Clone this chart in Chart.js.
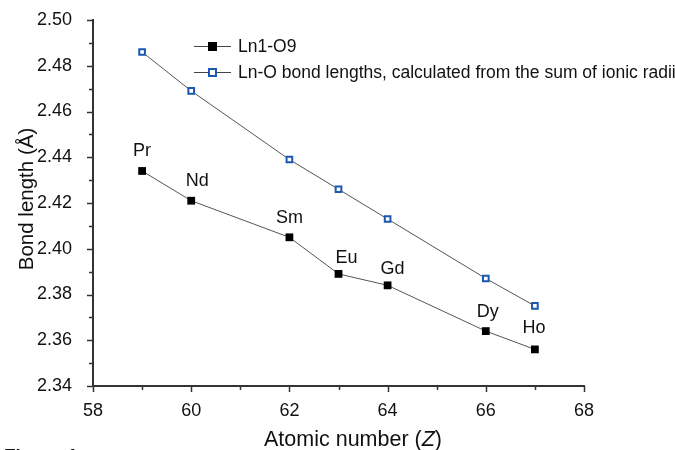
<!DOCTYPE html>
<html>
<head>
<meta charset="utf-8">
<script src="https://cdn.jsdelivr.net/npm/chart.js@4/dist/chart.umd.min.js"></script>
<style>
  html, body { margin: 0; padding: 0; background: #fff; overflow: hidden; }
  #wrap { width: 675px; height: 450px; position: relative; }
</style>
</head>
<body>
<div id="wrap"><canvas id="bondChart"></canvas></div>
<script>
// Data
const atomicNumbers = [59, 60, 62, 63, 64, 66, 67];
const elements = ['Pr', 'Nd', 'Sm', 'Eu', 'Gd', 'Dy', 'Ho'];
const ln1O9 = [2.434, 2.421, 2.405, 2.389, 2.384, 2.364, 2.356];
const ionicSum = [2.486, 2.469, 2.439, 2.426, 2.413, 2.387, 2.375];
const xTicks = [58, 60, 62, 64, 66, 68];
const yTicks = [2.34, 2.36, 2.38, 2.40, 2.42, 2.44, 2.46, 2.48, 2.50];

// label offsets relative to each Ln1-O9 point (dx, dy)
const labelOffsets = [[0, -18], [6, -18], [0, -17], [8, -14], [5, -14], [2, -17], [-1, -19]];

const FONT = "'Liberation Sans', Arial, sans-serif";
const BLUE = '#1c57b0';

const toPoints = ys => atomicNumbers.map((x, i) => ({ x: x, y: ys[i] }));

// draws ticks, axis titles, point labels, legend
const decorations = {
    id: 'decorations',
    afterDraw(chart) {
        const ctx = chart.ctx;
        const xs = chart.scales.x, ys = chart.scales.y;
        const area = chart.chartArea;
        ctx.save();
        ctx.strokeStyle = '#333';
        ctx.lineWidth = 1.5;

        // x ticks (major + minor)
        for (let v = 58; v <= 68; v++) {
            const px = Math.round(xs.getPixelForValue(v)) + 0.5;
            const len = (v % 2 === 0) ? 6 : 4;
            ctx.beginPath();
            ctx.moveTo(px, area.bottom);
            ctx.lineTo(px, area.bottom + len);
            ctx.stroke();
        }
        // y ticks (major + minor)
        for (let k = 0; k <= 16; k++) {
            const v = 2.34 + k * 0.01;
            const py = Math.round(ys.getPixelForValue(v)) + 0.5;
            const len = (k % 2 === 0) ? 6 : 4;
            ctx.beginPath();
            ctx.moveTo(area.left, py);
            ctx.lineTo(area.left - len, py);
            ctx.stroke();
        }

        // point labels
        ctx.fillStyle = '#111';
        ctx.font = '18px ' + FONT;
        ctx.textAlign = 'center';
        ctx.textBaseline = 'bottom';
        elements.forEach((el, i) => {
            const px = xs.getPixelForValue(atomicNumbers[i]);
            const py = ys.getPixelForValue(ln1O9[i]);
            ctx.fillText(el, px + labelOffsets[i][0], py + labelOffsets[i][1] + 7);
        });

        // legend
        const legendRows = [
            { text: 'Ln1-O9', filled: true, y: 46 },
            { text: 'Ln-O bond lengths, calculated from the sum of ionic radii', filled: false, y: 72 }
        ];
        ctx.font = '17.5px ' + FONT;
        ctx.textAlign = 'left';
        ctx.textBaseline = 'middle';
        legendRows.forEach(row => {
            ctx.strokeStyle = '#444';
            ctx.lineWidth = 1;
            ctx.beginPath();
            ctx.moveTo(194, row.y + 0.5);
            ctx.lineTo(231, row.y + 0.5);
            ctx.stroke();
            if (row.filled) {
                ctx.fillStyle = '#000';
                ctx.fillRect(208, row.y - 4, 9, 9);
            } else {
                ctx.fillStyle = '#fff';
                ctx.fillRect(208, row.y - 4, 9, 9);
                ctx.strokeStyle = BLUE;
                ctx.lineWidth = 2;
                ctx.strokeRect(209, row.y - 3, 7, 7);
            }
            ctx.fillStyle = '#111';
            ctx.fillText(row.text, 238, row.y + 1);
        });

        // y axis title
        ctx.save();
        ctx.translate(27, 199);
        ctx.rotate(-Math.PI / 2);
        ctx.textAlign = 'center';
        ctx.textBaseline = 'middle';
        ctx.font = '20.5px ' + FONT;
        ctx.fillStyle = '#111';
        ctx.fillText('Bond length (Å)', 0, 0);
        ctx.restore();

        // x axis title with italic Z
        const parts = [
            { t: 'Atomic number (', f: '21.5px ' + FONT },
            { t: 'Z', f: 'italic 21.5px ' + FONT },
            { t: ')', f: '21.5px ' + FONT }
        ];
        let total = 0;
        parts.forEach(p => { ctx.font = p.f; p.w = ctx.measureText(p.t).width; total += p.w; });
        let cx = 353 - total / 2;
        ctx.textAlign = 'left';
        ctx.textBaseline = 'alphabetic';
        parts.forEach(p => { ctx.font = p.f; ctx.fillText(p.t, cx, 446); cx += p.w; });

        // caption cut by the bottom edge
        ctx.font = 'bold 19px ' + FONT;
        ctx.fillText('Figure 1.', 4, 462);
        ctx.restore();
    }
};

new Chart(document.getElementById('bondChart'), {
    type: 'line',
    data: {
        datasets: [
            {
                label: 'Ln1-O9',
                data: toPoints(ln1O9),
                borderColor: '#555',
                borderWidth: 1,
                pointStyle: 'rect',
                pointRadius: 5.5,
                pointBackgroundColor: '#000',
                pointBorderColor: '#000',
                pointBorderWidth: 0,
                tension: 0
            },
            {
                label: 'Ln-O bond lengths, calculated from the sum of ionic radii',
                data: toPoints(ionicSum),
                borderColor: '#555',
                borderWidth: 1,
                pointStyle: 'rect',
                pointRadius: 4,
                pointBackgroundColor: '#fff',
                pointBorderColor: BLUE,
                pointBorderWidth: 2,
                tension: 0
            }
        ]
    },
    options: {
        responsive: true,
        maintainAspectRatio: false,
        animation: false,
        layout: { padding: { top: 20, right: 91, bottom: 0, left: 0 } },
        plugins: {
            legend: { display: false },
            tooltip: { enabled: false }
        },
        scales: {
            x: {
                type: 'linear',
                min: 58,
                max: 68,
                afterBuildTicks: scale => { scale.ticks = xTicks.map(v => ({ value: v })); },
                afterFit: scale => {
                    scale.height = 64;
                    scale.paddingLeft = 0;
                    scale.paddingRight = 0;
                },
                grid: { display: false },
                border: { display: true, color: '#333', width: 2 },
                ticks: {
                    padding: 6,
                    color: '#111',
                    font: { family: FONT, size: 18 },
                    maxRotation: 0,
                    callback: v => String(v)
                }
            },
            y: {
                type: 'linear',
                min: 2.34,
                max: 2.50,
                afterBuildTicks: scale => { scale.ticks = yTicks.map(v => ({ value: v })); },
                afterFit: scale => {
                    scale.width = 93;
                    scale.paddingTop = 0;
                    scale.paddingBottom = 0;
                },
                grid: { display: false },
                border: { display: true, color: '#333', width: 2 },
                ticks: {
                    padding: 13,
                    color: '#111',
                    font: { family: FONT, size: 18 },
                    callback: v => v.toFixed(2)
                }
            }
        }
    },
    plugins: [decorations]
});
</script>
</body>
</html>
